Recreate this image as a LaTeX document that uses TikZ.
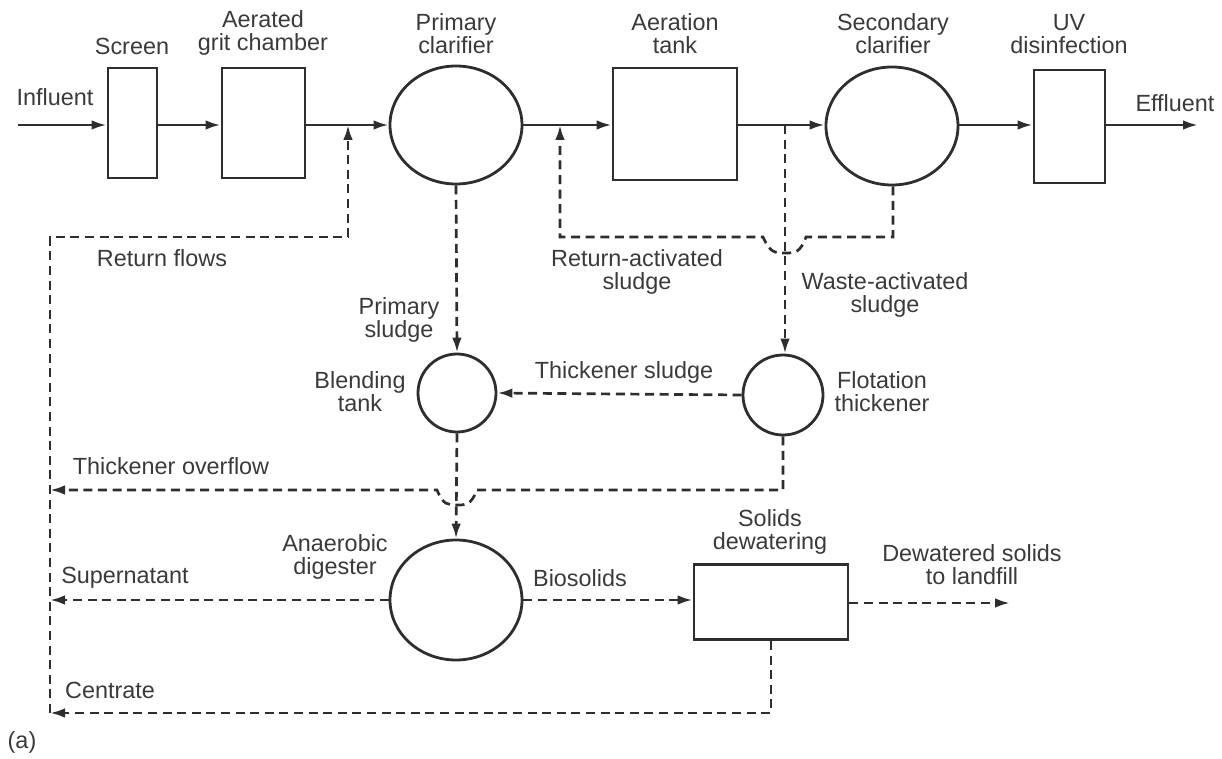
\documentclass[tikz,border=0pt]{standalone}
\usepackage{fontspec}
\setmainfont{Liberation Sans}
\usetikzlibrary{arrows.meta,shapes.geometric}
\definecolor{lc}{HTML}{2E2E2E}
\definecolor{tc}{HTML}{3A3A3A}
\tikzset{
  boxnode/.style={draw=lc,line width=1.4pt,rectangle,inner sep=0pt},
  ellnode/.style={draw=lc,line width=1.4pt,ellipse,inner sep=0pt},
  flow/.style={draw=lc,line width=1.35pt,-{Latex[length=7.5pt,width=4.8pt]}},
  dsh/.style={dash pattern=on 4.5pt off 2.8pt},
  lbl/.style={text=tc,font=\fontsize{11.7}{11.6}\selectfont,align=center,inner sep=0pt},
}
\begin{document}
\begin{tikzpicture}[x=0.5pt,y=-0.5pt]
\useasboundingbox (0,0) rectangle (1222,759);
% process units
\node[boxnode,minimum width=24.5pt,minimum height=55pt] (screen) at (132.5,123) {};
\node[boxnode,minimum width=41.5pt,minimum height=55pt] (grit) at (263.5,123) {};
\node[ellnode,minimum width=66pt,minimum height=59pt] (pc) at (456,125) {};
\node[boxnode,minimum width=62pt,minimum height=56pt] (at) at (675,124) {};
\node[ellnode,minimum width=66pt,minimum height=59pt] (sc) at (892,126) {};
\node[boxnode,minimum width=35.5pt,minimum height=56.5pt] (uv) at (1069.5,126.5) {};
\node[ellnode,minimum width=39pt,minimum height=39pt] (bt) at (457,393) {};
\node[ellnode,minimum width=40pt,minimum height=40pt] (ft) at (783,395) {};
\node[ellnode,minimum width=66pt,minimum height=60pt] (dg) at (456,600) {};
\node[boxnode,minimum width=77pt,minimum height=37.5pt] (dw) at (771,602) {};
% coordinates
\coordinate (in) at (18,125);
\coordinate (out) at (1198,125);
\coordinate (j1) at (348,125);
\coordinate (j2) at (560,125);
\coordinate (j3) at (785,125);
\coordinate (rfa) at (50,713);
\coordinate (rfb) at (50,237);
\coordinate (rfc) at (348,237);
\coordinate (rasa) at (893,237);
\coordinate (rasb) at (560,237);
\coordinate (ovfa) at (783,490);
\coordinate (ovfb) at (50,490);
\coordinate (supe) at (50,600);
\coordinate (land) at (1010,603);
\coordinate (cena) at (771,713);
\coordinate (cenb) at (50,713);
% main line
\draw[flow] (in) -- (screen.west |- in);
\draw[flow] (screen.east |- in) -- (grit.west |- in);
\draw[flow] (grit.east |- in) -- (pc.west);
\draw[flow] (pc.east) -- (at.west |- j2);
\draw[flow] (at.east |- j3) -- (sc.west |- j3);
\draw[flow] (sc.east |- j3) -- (uv.west |- j3);
\draw[flow] (uv.east |- out) -- (out);
% return flows
\draw[flow,dsh] (rfa) -- (rfb) -- (rfc) -- (j1);
% return activated sludge
\draw[flow,dsh] (sc.south -| rasa) -- (rasa) -- (806,237)
  .. controls (800,253) and (795,253) .. (785,253)
  .. controls (775,253) and (770,253) .. (763,237)
  -- (rasb) -- (j2);
% waste activated sludge
\draw[flow,dsh] (j3) -- (ft.north -| j3);
% primary sludge
\draw[flow,dsh] (pc.south) -- (bt.north);
% thickener sludge
\draw[flow,dsh] (ft.west) -- (bt.east);
% thickener overflow
\draw[flow,dsh] (ft.south) -- (ovfa) -- (477,490)
  .. controls (471,505) and (466,505) .. (457,505)
  .. controls (448,505) and (443,505) .. (437,490)
  -- (ovfb);
% blending to digester
\draw[flow,dsh] (bt.south) -- (dg.north);
% supernatant
\draw[flow,dsh] (dg.west) -- (supe);
% biosolids
\draw[flow,dsh] (dg.east) -- (dw.west |- dg.east);
% dewatered solids
\draw[flow,dsh] (dw.east |- land) -- (land);
% centrate
\draw[flow,dsh] (dw.south) -- (cena) -- (cenb);
% labels
\node[lbl] (tin) at (55,97) {Influent};
\node[lbl] (tscr) at (132,46) {Screen};
\node[lbl] (tgrit) at (263,33) {Aerated\\grit chamber};
\node[lbl] (tpc) at (456,34) {Primary\\clarifier};
\node[lbl] (tat) at (675,34) {Aeration\\tank};
\node[lbl] (tsc) at (893,34) {Secondary\\clarifier};
\node[lbl] (tuv) at (1069,34) {UV\\disinfection};
\node[lbl] (teff) at (1175,103) {Effluent};
\node[lbl] (trf) at (162,258) {Return flows};
\node[lbl] (tps) at (399,320) {Primary\\sludge};
\node[lbl] (tras) at (637,272) {Return-activated\\sludge};
\node[lbl] (twas) at (885,295) {Waste-activated\\sludge};
\node[lbl] (tbt) at (360,392) {Blending\\tank};
\node[lbl] (tts) at (624,372) {Thickener sludge};
\node[lbl] (tft) at (882,392) {Flotation\\thickener};
\node[lbl] (tto) at (171,466) {Thickener overflow};
\node[lbl] (tdg) at (335,557) {Anaerobic\\digester};
\node[lbl] (tsup) at (125,578) {Supernatant};
\node[lbl] (tbio) at (580,578) {Biosolids};
\node[lbl] (tdw) at (770,532) {Solids\\dewatering};
\node[lbl] (tland) at (972,565) {Dewatered solids\\to landfill};
\node[lbl] (tcen) at (110,690) {Centrate};
\node[lbl] (ta) at (22,742) {(a)};
\end{tikzpicture}
\end{document}
